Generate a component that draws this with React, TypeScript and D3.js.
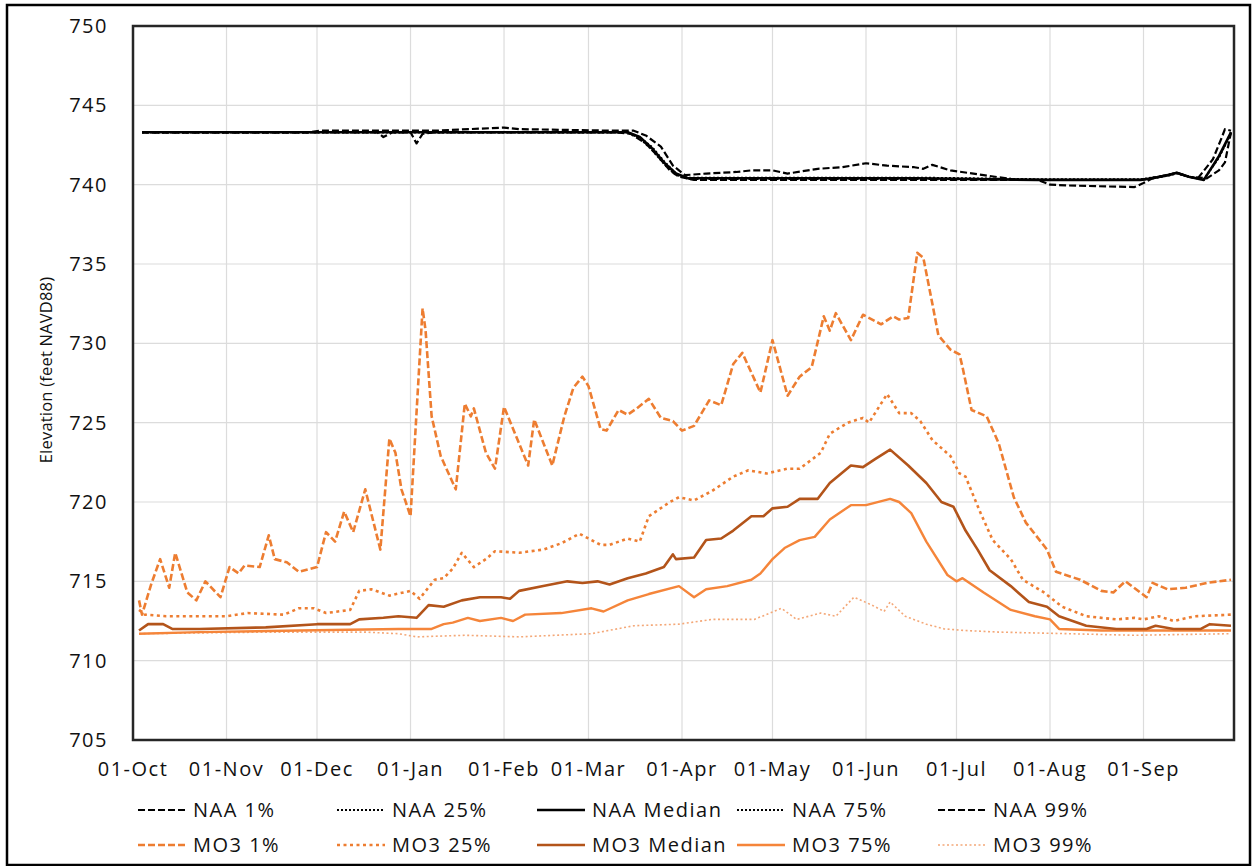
import { useRef, useEffect } from "react";
import * as d3 from "d3";

// days after 01-Oct, elevation (ft NAVD88)
const naa1 = [
  [3, 743.3], [58, 743.3], [62, 743.4], [100, 743.4], [123, 743.6], [128, 743.5], [160, 743.4],
  [166, 743.4], [170, 743.1], [175, 742.4], [179, 741.2], [183, 740.6], [190, 740.7], [200, 740.8],
  [205, 740.9], [212, 740.9], [217, 740.7], [227, 741.0], [235, 741.1], [243, 741.35], [250, 741.2],
  [259, 741.1], [262, 741.0], [265, 741.25], [271, 740.9], [282, 740.6], [293, 740.3], [334, 740.3],
  [337, 740.4], [343, 740.6], [346, 740.75], [350, 740.5], [353, 740.4], [358, 741.6], [361, 743.0],
  [362, 743.5], [364, 743.4],
];
const naa25 = [
  [3, 743.3], [164, 743.3], [168, 742.9], [172, 742.2], [176, 741.3], [180, 740.6], [184, 740.45],
  [260, 740.45], [300, 740.35], [334, 740.35], [338, 740.45], [343, 740.6], [346, 740.75],
  [350, 740.5], [355, 740.35], [360, 741.7], [364, 743.3],
];
const naaMedian = [
  [3, 743.3], [164, 743.3], [168, 743.0], [172, 742.3], [176, 741.4], [180, 740.7], [184, 740.4],
  [260, 740.4], [300, 740.3], [334, 740.3], [338, 740.4], [343, 740.6], [346, 740.75], [350, 740.5],
  [355, 740.3], [360, 741.8], [364, 743.3],
];
const naa75 = [
  [3, 743.3], [164, 743.3], [168, 743.0], [172, 742.4], [176, 741.5], [180, 740.7], [184, 740.35],
  [260, 740.35], [300, 740.3], [334, 740.3], [338, 740.4], [343, 740.55], [346, 740.7], [350, 740.5],
  [355, 740.3], [360, 741.7], [364, 743.2],
];
const naa99 = [
  [3, 743.3], [81, 743.3], [83, 743.0], [86, 743.3], [92, 743.3], [94, 742.6], [96, 743.2],
  [100, 743.3], [160, 743.3], [165, 743.2], [170, 742.6], [174, 741.8], [178, 740.9], [181, 740.5],
  [186, 740.3], [300, 740.3], [304, 740.0], [310, 739.95], [320, 739.9], [332, 739.85], [335, 740.1],
  [338, 740.4], [343, 740.6], [346, 740.75], [350, 740.5], [356, 740.4], [360, 740.9], [362, 741.4],
  [364, 743.3],
];

const mo31 = [
  [2, 713.8], [3, 712.9], [6, 714.8], [9, 716.4], [12, 714.6], [14, 716.8], [18, 714.3], [21, 713.8],
  [24, 715.0], [29, 714.0], [32, 715.9], [35, 715.5], [37, 716.0], [42, 715.9], [45, 717.9],
  [47, 716.4], [51, 716.2], [55, 715.6], [61, 715.9], [64, 718.1], [67, 717.5], [70, 719.4],
  [73, 718.1], [77, 720.8], [82, 717.0], [85, 724.0], [87, 723.1], [89, 720.8], [92, 719.1],
  [96, 732.2], [97, 730.8], [99, 725.4], [102, 722.9], [107, 720.8], [110, 726.2], [112, 725.4],
  [113, 725.9], [117, 723.1], [120, 722.1], [123, 726.0], [131, 722.3], [133, 725.2], [139, 722.3],
  [143, 725.4], [146, 727.2], [149, 727.9], [151, 727.3], [155, 724.6], [157, 724.5], [161, 725.8],
  [164, 725.5], [167, 725.9], [171, 726.5], [175, 725.3], [179, 725.1], [182, 724.5], [186, 724.8],
  [191, 726.4], [195, 726.1], [199, 728.7], [202, 729.4], [208, 726.9], [212, 730.2], [217, 726.7],
  [221, 727.9], [225, 728.5], [229, 731.7], [231, 730.8], [233, 731.9], [238, 730.2], [242, 731.8],
  [248, 731.2], [252, 731.7], [254, 731.5], [257, 731.6], [260, 735.7], [262, 735.4], [265, 732.5],
  [267, 730.5], [271, 729.6], [274, 729.3], [275, 728.5], [278, 725.8], [283, 725.4], [287, 723.7],
  [292, 720.3], [296, 718.7], [303, 717.0], [306, 715.6], [314, 715.1], [321, 714.4], [325, 714.3],
  [329, 715.0], [336, 714.0], [338, 714.9], [343, 714.5], [349, 714.6], [356, 714.9], [364, 715.1],
];
const mo325 = [
  [2, 713.2], [4, 712.9], [11, 712.8], [22, 712.8], [31, 712.8], [38, 713.0], [50, 712.9],
  [55, 713.3], [60, 713.3], [64, 713.0], [72, 713.2], [75, 714.4], [79, 714.5], [85, 714.1],
  [92, 714.4], [95, 713.9], [100, 715.1], [103, 715.2], [106, 715.8], [109, 716.8], [113, 715.9],
  [117, 716.4], [120, 716.9], [128, 716.8], [136, 717.0], [142, 717.4], [148, 718.0], [150, 717.8],
  [155, 717.3], [158, 717.3], [164, 717.7], [168, 717.5], [171, 719.1], [178, 720.0], [181, 720.3],
  [186, 720.1], [192, 720.7], [199, 721.6], [204, 722.0], [210, 721.8], [217, 722.1], [221, 722.1],
  [228, 723.1], [231, 724.3], [237, 725.0], [242, 725.3], [244, 725.0], [250, 726.8], [254, 725.6],
  [258, 725.6], [261, 725.1], [265, 723.9], [271, 722.9], [274, 721.8], [276, 721.6], [281, 719.3],
  [285, 717.6], [291, 716.4], [295, 715.1], [302, 714.3], [308, 713.4], [316, 712.8], [326, 712.6],
  [332, 712.7], [335, 712.6], [340, 712.8], [345, 712.5], [352, 712.8], [364, 712.9],
];
const mo3Median = [
  [2, 711.9], [5, 712.3], [10, 712.3], [13, 712.0], [22, 712.0], [44, 712.1], [61, 712.3],
  [72, 712.3], [75, 712.6], [83, 712.7], [88, 712.8], [94, 712.7], [98, 713.5], [103, 713.4],
  [109, 713.8], [115, 714.0], [122, 714.0], [125, 713.9], [128, 714.4], [136, 714.7], [144, 715.0],
  [149, 714.9], [154, 715.0], [158, 714.8], [164, 715.2], [170, 715.5], [176, 715.9], [179, 716.7],
  [180, 716.4], [186, 716.5], [190, 717.6], [195, 717.7], [199, 718.2], [205, 719.1], [209, 719.1],
  [212, 719.6], [217, 719.7], [221, 720.2], [227, 720.2], [231, 721.2], [238, 722.3], [242, 722.2],
  [246, 722.7], [251, 723.3], [257, 722.3], [263, 721.2], [268, 720.0], [272, 719.7], [276, 718.2],
  [280, 717.0], [284, 715.7], [291, 714.7], [297, 713.7], [303, 713.4], [307, 712.8], [316, 712.2],
  [326, 712.0], [336, 712.0], [339, 712.2], [345, 712.0], [354, 712.0], [357, 712.3], [364, 712.2],
];
const mo375 = [
  [2, 711.7], [22, 711.8], [55, 711.9], [88, 712.0], [99, 712.0], [103, 712.3], [106, 712.4],
  [111, 712.7], [115, 712.5], [122, 712.7], [126, 712.5], [130, 712.9], [142, 713.0], [152, 713.3],
  [156, 713.1], [164, 713.8], [171, 714.2], [181, 714.7], [186, 714.0], [190, 714.5], [197, 714.7],
  [205, 715.1], [208, 715.5], [212, 716.4], [216, 717.1], [221, 717.6], [226, 717.8], [231, 718.9],
  [238, 719.8], [243, 719.8], [251, 720.2], [254, 720.0], [258, 719.3], [263, 717.5], [270, 715.4],
  [273, 715.0], [275, 715.2], [282, 714.3], [291, 713.2], [299, 712.8], [304, 712.6], [307, 712.0],
  [321, 711.9], [364, 711.9],
];
const mo399 = [
  [2, 711.7], [44, 711.8], [77, 711.8], [88, 711.7], [94, 711.5], [110, 711.6], [128, 711.5],
  [140, 711.6], [152, 711.7], [166, 712.2], [181, 712.3], [192, 712.6], [206, 712.6], [215, 713.3],
  [220, 712.6], [228, 713.0], [233, 712.8], [239, 714.0], [245, 713.5], [249, 713.1], [251, 713.7],
  [256, 712.8], [263, 712.3], [269, 712.0], [276, 711.9], [287, 711.8], [310, 711.7], [332, 711.6],
  [364, 711.7],
];

const seriesNames = [
  "NAA 1%", "NAA 25%", "NAA Median", "NAA 75%", "NAA 99%",
  "MO3 1%", "MO3 25%", "MO3 Median", "MO3 75%", "MO3 99%",
];
const seriesData = [naa1, naa25, naaMedian, naa75, naa99, mo31, mo325, mo3Median, mo375, mo399];
const yTicks = [705, 710, 715, 720, 725, 730, 735, 740, 745, 750];

const styles = [
  { color: "#000", width: 2.2, dash: "7,3" },
  { color: "#000", width: 1.8, dash: "2,2" },
  { color: "#000", width: 2.6, dash: null },
  { color: "#000", width: 1.8, dash: "2,2" },
  { color: "#000", width: 2.2, dash: "7,3" },
  { color: "#ED7D31", width: 2.6, dash: "7,3" },
  { color: "#ED7D31", width: 2.6, dash: "3,3.5" },
  { color: "#B3541A", width: 2.6, dash: null },
  { color: "#F5853A", width: 2.4, dash: null },
  { color: "#F4A878", width: 1.6, dash: "2,2.5" },
];

const FONT = "'Open Sans', sans-serif";

const App = () => {
  const ref = useRef(null);

  useEffect(() => {
    const el = ref.current;
    d3.select(el).selectAll("*").remove();

    const W = 1255;
    const H = 866;
    const plot = { left: 133, top: 26, right: 1234, bottom: 740 };
    const start = new Date(2021, 9, 1);
    const end = new Date(2022, 9, 1);

    const svg = d3
      .select(el)
      .append("svg")
      .attr("width", W)
      .attr("height", H)
      .style("position", "absolute")
      .style("left", "0px")
      .style("top", "0px")
      .style("background", "#fff");

    const x = d3.scaleTime().domain([start, end]).range([plot.left, plot.right]);
    const y = d3.scaleLinear().domain([705, 750]).range([plot.bottom, plot.top]);

    // outer frame
    svg.append("rect").attr("x", 7).attr("y", 5).attr("width", 1243).attr("height", 860)
      .attr("fill", "#fff").attr("stroke", "#000").attr("stroke-width", 2.5);

    const months = d3.timeMonth.range(start, end);

    // grid
    svg.append("g").selectAll("line").data(yTicks).join("line")
      .attr("x1", plot.left).attr("x2", plot.right)
      .attr("y1", d => y(d)).attr("y2", d => y(d))
      .attr("stroke", "#dcdcdc").attr("stroke-width", 1.2);
    svg.append("g").selectAll("line").data(months).join("line")
      .attr("x1", d => x(d)).attr("x2", d => x(d))
      .attr("y1", plot.top).attr("y2", plot.bottom)
      .attr("stroke", "#dcdcdc").attr("stroke-width", 1.2);

    // y tick labels
    svg.append("g").selectAll("text").data(yTicks).join("text")
      .attr("x", 108).attr("y", d => y(d)).attr("dy", "0.35em")
      .attr("text-anchor", "end").attr("font-family", FONT).attr("font-size", 20)
      .attr("letter-spacing", 1.5).attr("fill", "#111")
      .text(d => d);

    // x tick labels
    const fmt = d3.timeFormat("%d-%b");
    svg.append("g").selectAll("text").data(months).join("text")
      .attr("x", d => x(d)).attr("y", 769).attr("dy", "0.35em")
      .attr("text-anchor", "middle").attr("font-family", FONT).attr("font-size", 20)
      .attr("letter-spacing", 1.5).attr("fill", "#111")
      .text(d => fmt(d));

    // y title
    svg.append("text")
      .attr("transform", "translate(46,370) rotate(-90)")
      .attr("text-anchor", "middle").attr("dy", "0.35em")
      .attr("font-family", FONT).attr("font-size", 16.5).attr("letter-spacing", 0.2).attr("fill", "#111")
      .text("Elevation (feet NAVD88)");

    // series
    const line = d3.line<number[]>()
      .x(d => x(d3.timeDay.offset(start, d[0])))
      .y(d => y(d[1]));

    const order = [9, 8, 7, 6, 5, 3, 1, 4, 0, 2];
    const g = svg.append("g");
    order.forEach(i => {
      const st = styles[i];
      g.append("path")
        .datum(seriesData[i])
        .attr("d", line)
        .attr("fill", "none")
        .attr("stroke", st.color)
        .attr("stroke-width", st.width)
        .attr("stroke-dasharray", st.dash)
        .attr("stroke-linejoin", "round");
    });

    // plot frame
    svg.append("rect")
      .attr("x", plot.left).attr("y", plot.top)
      .attr("width", plot.right - plot.left).attr("height", plot.bottom - plot.top)
      .attr("fill", "none").attr("stroke", "#262626").attr("stroke-width", 2.5);

    // legend
    const legX = [138, 337, 537, 737, 938];
    const legY = [810, 845];
    const leg = svg.append("g").selectAll("g").data(seriesNames).join("g")
      .attr("transform", (_d, i) => `translate(${legX[i % 5]},${legY[Math.floor(i / 5)]})`);
    leg.append("line")
      .attr("x1", 0).attr("x2", 48).attr("y1", 0).attr("y2", 0)
      .attr("stroke", (_d, i) => styles[i].color)
      .attr("stroke-width", (_d, i) => styles[i].width)
      .attr("stroke-dasharray", (_d, i) => styles[i].dash);
    leg.append("text")
      .attr("x", 55).attr("y", 0).attr("dy", "0.35em")
      .attr("font-family", FONT).attr("font-size", 20).attr("letter-spacing", 1.5).attr("fill", "#111")
      .text(d => d);

    return () => {
      d3.select(el).selectAll("*").remove();
    };
  }, []);

  return <div ref={ref}></div>;
};

export default App;
